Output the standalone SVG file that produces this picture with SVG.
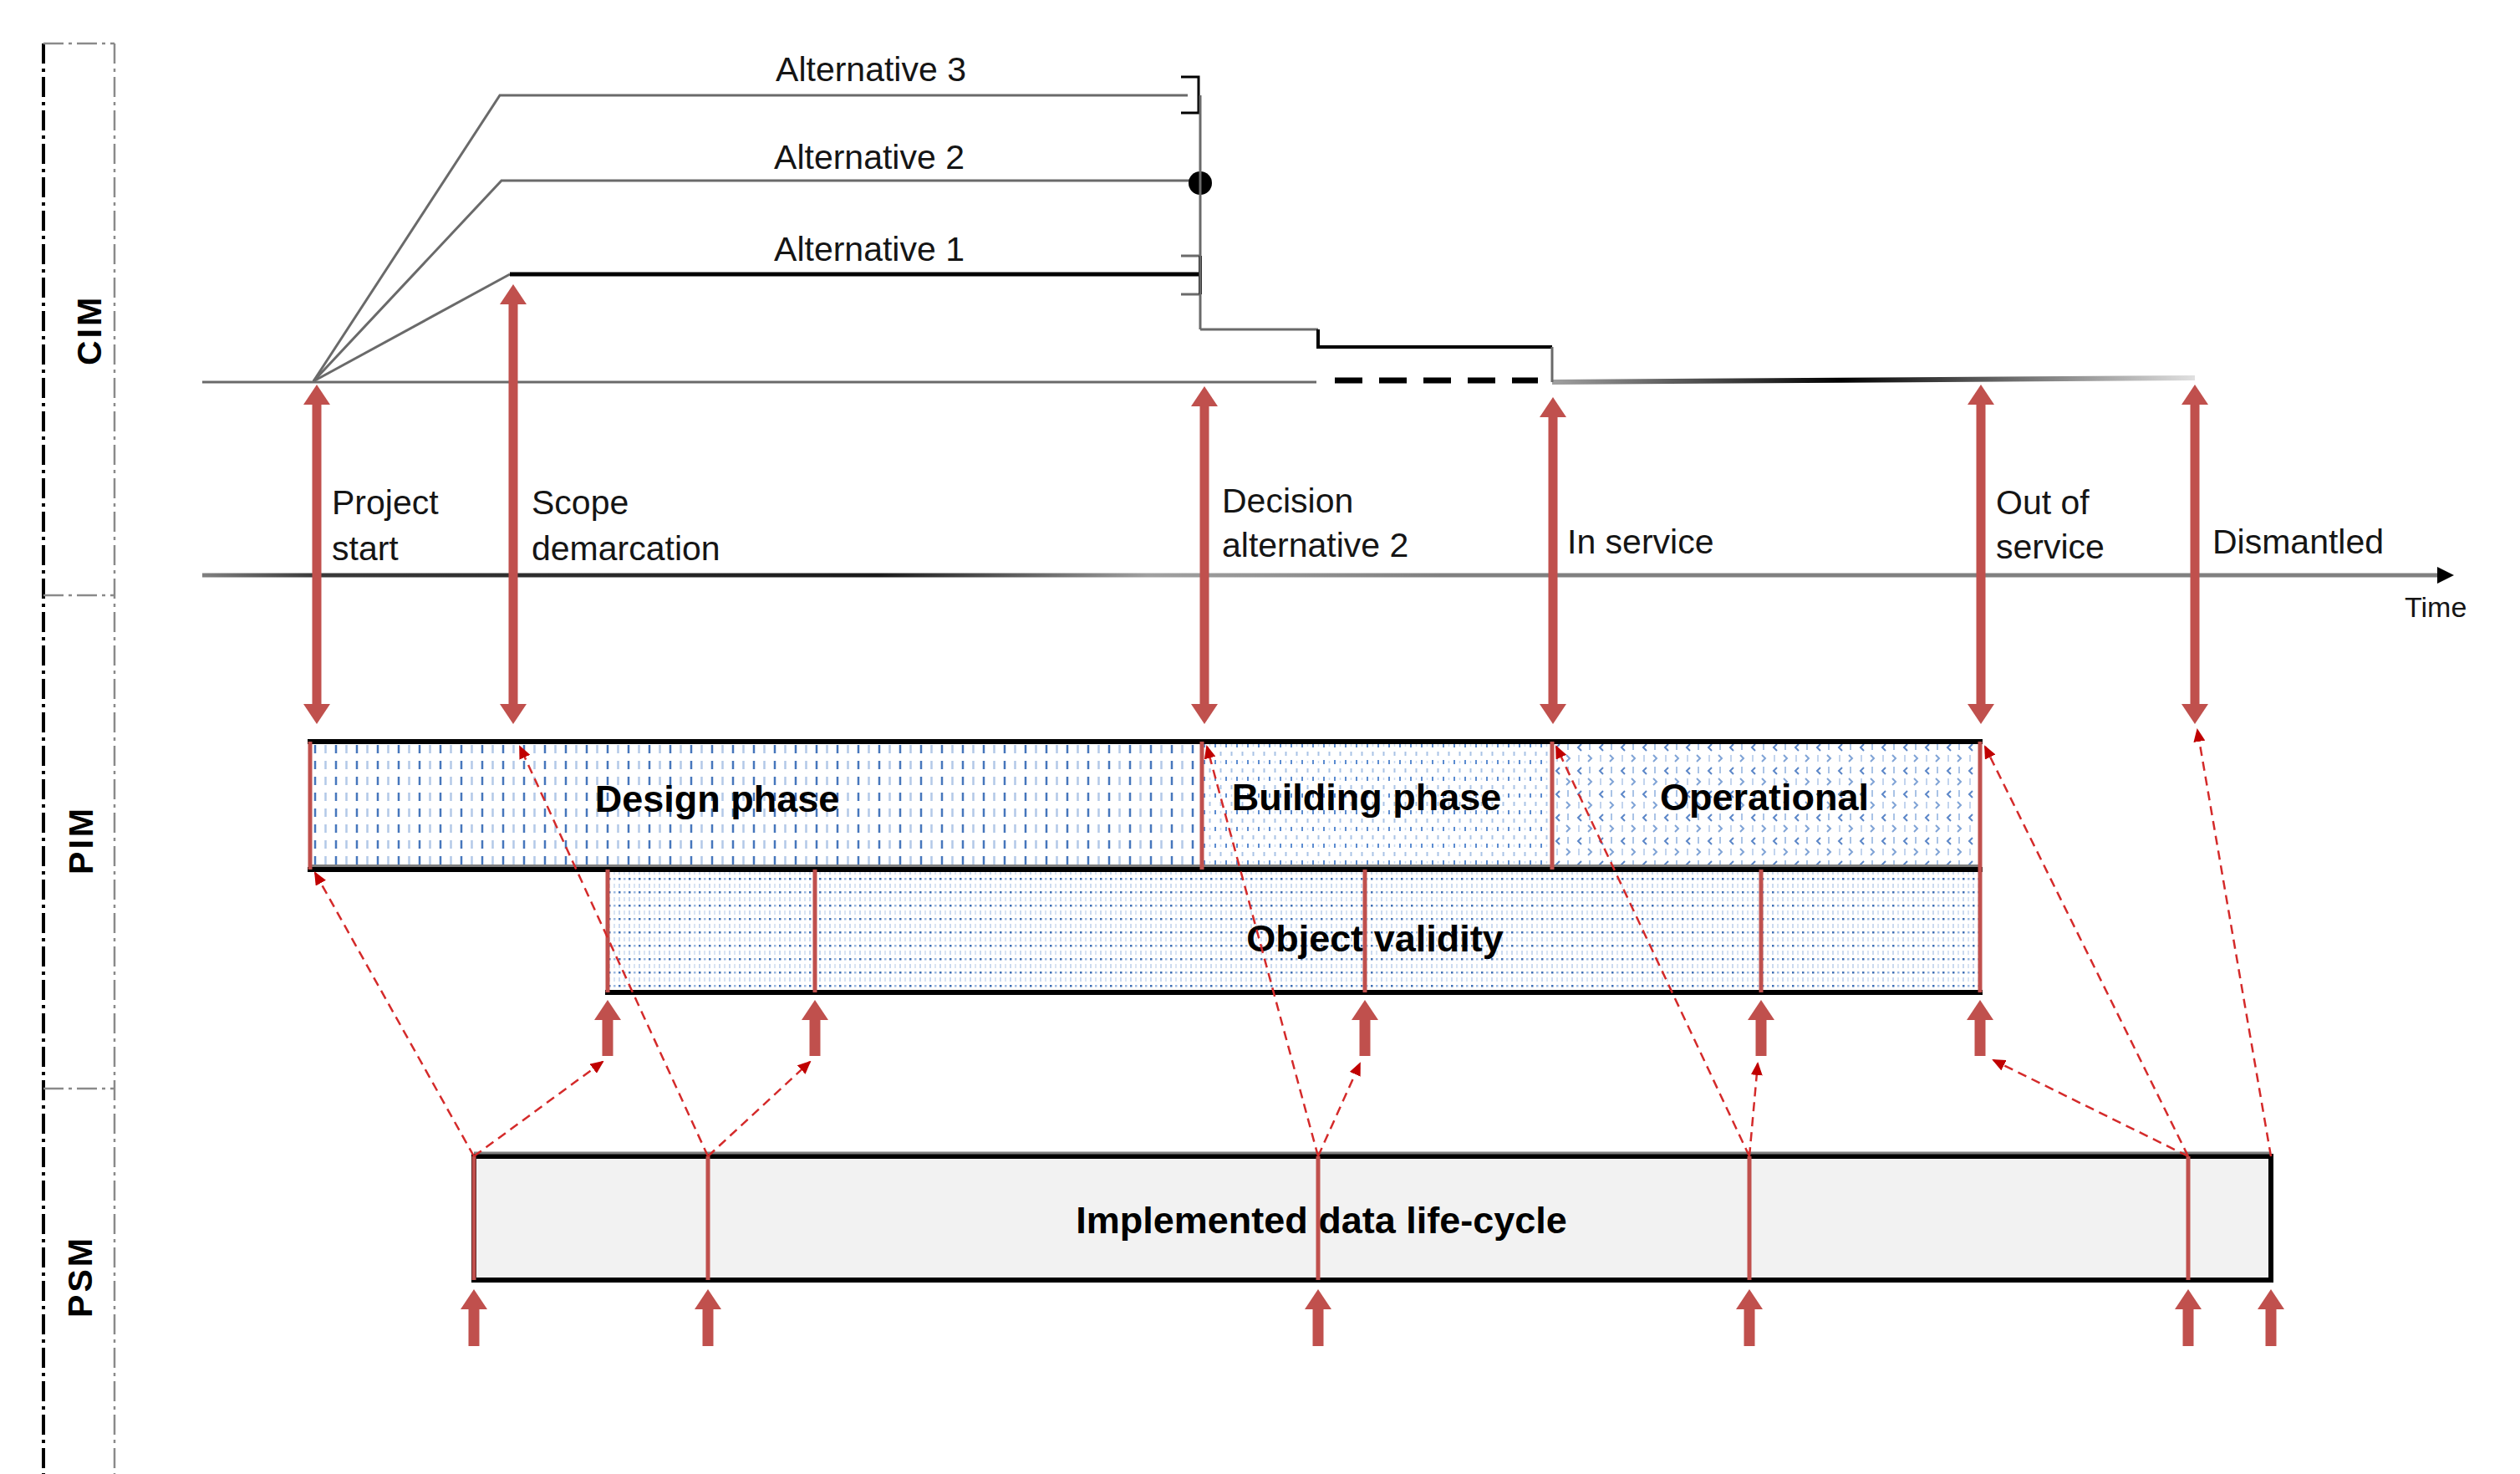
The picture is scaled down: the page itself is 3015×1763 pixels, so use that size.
<svg xmlns="http://www.w3.org/2000/svg" width="3015" height="1763" viewBox="0 0 3015 1763">
<style>
text{font-family:"Liberation Sans",Arial,sans-serif;fill:#151515}
.lbl{font-size:41px}
.bold{font-size:45px;font-weight:bold;text-anchor:middle;fill:#000}
.lane{font-size:41px;font-weight:bold;text-anchor:middle;letter-spacing:3px;fill:#000}
.thin{stroke:#6a6a6a;stroke-width:3;fill:none}
.blk{stroke:#000;stroke-width:5;fill:none}
.ms{stroke:#c0504d;stroke-width:11;fill:none;marker-start:url(#mR);marker-end:url(#mR)}
.up{stroke:#c0504d;stroke-width:13;fill:none;marker-end:url(#mR)}
.sep{stroke:#c0504d;stroke-width:5;fill:none}
.dash{stroke:#d42a2a;stroke-width:2.5;stroke-dasharray:11 7;fill:none;marker-end:url(#mD)}
.frame{stroke:#000;stroke-width:4;stroke-dasharray:24 6 4 6;fill:none}
.frame2{stroke:#8a8a8a;stroke-width:2.5;stroke-dasharray:24 6 4 6;fill:none}
.edge{stroke:#000;stroke-width:6;fill:none}
</style>
<defs>
<marker id="mR" markerUnits="userSpaceOnUse" markerWidth="24" markerHeight="32" viewBox="0 0 24 32" refX="2" refY="16" orient="auto-start-reverse"><path d="M0,0 L24,16 L0,32 z" fill="#c0504d"/></marker>
<marker id="mD" markerUnits="userSpaceOnUse" markerWidth="16" markerHeight="14" viewBox="0 0 16 14" refX="14" refY="7" orient="auto"><path d="M0,0 L16,7 L0,14 z" fill="#c00000"/></marker>
<marker id="mT" markerUnits="userSpaceOnUse" markerWidth="20" markerHeight="20" viewBox="0 0 20 20" refX="0" refY="10" orient="auto"><path d="M0,0 L20,10 L0,20 z" fill="#000"/></marker>
<linearGradient id="gTime" gradientUnits="userSpaceOnUse" x1="242" y1="0" x2="2936" y2="0">
<stop offset="0" stop-color="#808080"/><stop offset="0.05" stop-color="#3a3a3a"/><stop offset="0.3" stop-color="#1a1a1a"/><stop offset="0.42" stop-color="#a0a0a0"/><stop offset="0.55" stop-color="#808080"/><stop offset="1" stop-color="#808080"/>
</linearGradient>
<linearGradient id="gServ" gradientUnits="userSpaceOnUse" x1="1857" y1="0" x2="2626" y2="0">
<stop offset="0" stop-color="#a0a0a0"/><stop offset="0.45" stop-color="#000"/><stop offset="1" stop-color="#e0e0e0"/>
</linearGradient>
<pattern id="pDesign" patternUnits="userSpaceOnUse" x="371" y="887" width="25" height="19">
<rect width="25" height="19" fill="#fff"/>
<line x1="6" y1="4" x2="6" y2="14" stroke="#4676bc" stroke-width="2.5"/>
<line x1="18.5" y1="4" x2="18.5" y2="14" stroke="#b3c9e8" stroke-width="2.5"/>
</pattern>
<pattern id="pBuild" patternUnits="userSpaceOnUse" x="1438" y="887" width="13" height="20">
<rect width="13" height="20" fill="#fff"/>
<line x1="3" y1="2" x2="3" y2="7" stroke="#5b8bd0" stroke-width="2"/>
<line x1="9.5" y1="12" x2="9.5" y2="17" stroke="#a9c3e6" stroke-width="2"/>
<line x1="9.5" y1="3" x2="9.5" y2="6" stroke="#c9daf0" stroke-width="1.5"/>
</pattern>
<pattern id="pOper" patternUnits="userSpaceOnUse" x="1857" y="887" width="26" height="28">
<rect width="26" height="28" fill="#fff"/>
<path d="M9,3 L5,7 L9,11" stroke="#5b86c8" stroke-width="2" fill="none"/>
<line x1="19" y1="2" x2="19" y2="10" stroke="#a9c3e6" stroke-width="2"/>
<path d="M17,16 L21,20 L17,24" stroke="#7fa3d6" stroke-width="2" fill="none"/>
<line x1="6" y1="16" x2="6" y2="24" stroke="#c2d4ee" stroke-width="2"/>
</pattern>
<pattern id="pOV" patternUnits="userSpaceOnUse" x="727" y="1040" width="12" height="16">
<rect width="12" height="16" fill="#fff"/>
<line x1="2" y1="1" x2="2" y2="6" stroke="#b9cdea" stroke-width="1.5"/>
<line x1="8" y1="1" x2="8" y2="6" stroke="#cddbef" stroke-width="1.5"/>
<rect x="1" y="10" width="2.5" height="2.5" fill="#3f6fb5"/>
<rect x="7" y="10" width="2.5" height="2.5" fill="#9bb8e0"/>
</pattern>
</defs>
<rect width="3015" height="1763" fill="#fff"/>

<g id="lanes">
<g id="lane-frame">
<line class="frame" x1="52" y1="52" x2="52" y2="1763"/>
<line class="frame2" x1="137" y1="52" x2="137" y2="1763"/>
<line class="frame2" x1="52" y1="52" x2="137" y2="52"/>
<line class="frame2" x1="52" y1="712" x2="137" y2="712"/>
<line class="frame2" x1="52" y1="1302" x2="137" y2="1302"/>
</g>
<g id="lane-cim"><text class="lane" transform="translate(121,395) rotate(-90)">CIM</text></g>
<g id="lane-pim"><text class="lane" transform="translate(111,1005) rotate(-90)">PIM</text></g>
<g id="lane-psm"><text class="lane" transform="translate(110,1527) rotate(-90)">PSM</text></g>
</g>

<g id="cim-timeline">
<line class="thin" x1="242" y1="457" x2="1575" y2="457"/>
<line x1="1597" y1="455" x2="1840" y2="455" stroke="#000" stroke-width="7" stroke-dasharray="33 20"/>
<line x1="1857" y1="457" x2="2626" y2="452" stroke="url(#gServ)" stroke-width="6"/>
</g>

<g id="alt-3">
<path class="thin" d="M375,456 L598,114 L1421,114"/>
<path d="M1413,92 L1434,92 L1434,135 L1413,135" stroke="#000" stroke-width="3" fill="none"/>
<text class="lbl" x="1042" y="97" text-anchor="middle">Alternative 3</text>
</g>
<g id="alt-2">
<path class="thin" d="M375,456 L600,216 L1436,216"/>
<circle cx="1436" cy="219" r="14" fill="#000"/>
<text class="lbl" x="1040" y="202" text-anchor="middle">Alternative 2</text>
</g>
<g id="alt-1">
<path class="thin" d="M375,456 L610,328"/>
<line class="blk" x1="610" y1="328" x2="1436" y2="328"/>
<path class="thin" d="M1413,306 L1436,306 M1413,352 L1436,352"/>
<line x1="1436" y1="306" x2="1436" y2="352" stroke="#000" stroke-width="4"/>
<text class="lbl" x="1040" y="312" text-anchor="middle">Alternative 1</text>
</g>
<g id="decision-path">
<line class="thin" x1="1436" y1="114" x2="1436" y2="394"/>
<line class="thin" x1="1436" y1="394" x2="1577" y2="394"/>
<path d="M1577,394 L1577,415 L1857,415" stroke="#000" stroke-width="4" fill="none"/>
<line class="thin" x1="1857" y1="415" x2="1857" y2="457"/>
</g>

<g id="time-axis">
<line x1="242" y1="688" x2="2916" y2="688" stroke="url(#gTime)" stroke-width="5" marker-end="url(#mT)"/>
<text x="2877" y="738" style="font-size:34px">Time</text>
</g>

<g id="milestone-labels">
<text class="lbl" x="397" y="615">Project</text>
<text class="lbl" x="397" y="670">start</text>
<text class="lbl" x="636" y="615">Scope</text>
<text class="lbl" x="636" y="670">demarcation</text>
<text class="lbl" x="1462" y="613">Decision</text>
<text class="lbl" x="1462" y="666">alternative 2</text>
<text class="lbl" x="1875" y="662">In service</text>
<text class="lbl" x="2388" y="615">Out of</text>
<text class="lbl" x="2388" y="668">service</text>
<text class="lbl" x="2647" y="662">Dismantled</text>
</g>

<g id="phase-design">
<rect x="371" y="887" width="1067" height="153" fill="url(#pDesign)"/>
<text class="bold" x="858" y="971">Design phase</text>
</g>
<g id="phase-building">
<rect x="1438" y="887" width="419" height="153" fill="url(#pBuild)"/>
<text class="bold" x="1635" y="969">Building phase</text>
</g>
<g id="phase-operational">
<rect x="1857" y="887" width="512" height="153" fill="url(#pOper)"/>
<text class="bold" x="2111" y="969">Operational</text>
</g>
<g id="object-validity">
<rect x="727" y="1040" width="1642" height="147" fill="url(#pOV)"/>
<text class="bold" x="1645" y="1138">Object validity</text>
</g>
<g id="pim-outline">
<line class="edge" x1="368" y1="887" x2="2372" y2="887"/>
<line x1="371" y1="1036" x2="2369" y2="1036" stroke="#7f7f7f" stroke-width="4"/>
<line class="edge" x1="368" y1="1040" x2="2372" y2="1040"/>
<line class="edge" x1="724" y1="1187" x2="2372" y2="1187"/>
<path class="sep" d="M371,887 V1040 M1438,887 V1040 M1857,887 V1040 M2369,887 V1187 M727,1040 V1187 M975,1040 V1187 M1633,1040 V1187 M2107,1040 V1187"/>
</g>

<g id="psm-lifecycle">
<rect x="567" y="1383" width="2150" height="148" fill="#f2f2f2" stroke="#000" stroke-width="6"/>
<line x1="567" y1="1379" x2="2717" y2="1379" stroke="#7f7f7f" stroke-width="3"/>
<text class="bold" x="1581" y="1475">Implemented data life-cycle</text>
<path class="sep" d="M567,1383 V1531 M847,1383 V1531 M1577,1383 V1531 M2093,1383 V1531 M2618,1383 V1531"/>
</g>

<g id="connectors">
<path class="ms" d="M379,482 V844"/>
<path class="ms" d="M614,362 V844"/>
<path class="ms" d="M1441,484 V844"/>
<path class="ms" d="M1858,497 V844"/>
<path class="ms" d="M2370,482 V844"/>
<path class="ms" d="M2626,482 V844"/>

<path class="up" d="M727,1263 V1218"/>
<path class="up" d="M975,1263 V1218"/>
<path class="up" d="M1633,1263 V1218"/>
<path class="up" d="M2107,1263 V1218"/>
<path class="up" d="M2369,1263 V1218"/>

<path class="up" d="M567,1610 V1564"/>
<path class="up" d="M847,1610 V1564"/>
<path class="up" d="M1577,1610 V1564"/>
<path class="up" d="M2093,1610 V1564"/>
<path class="up" d="M2618,1610 V1564"/>
<path class="up" d="M2717,1610 V1564"/>

<path class="dash" d="M567,1383 L377,1044"/>
<path class="dash" d="M567,1383 L721,1270"/>
<path class="dash" d="M847,1383 L622,893"/>
<path class="dash" d="M847,1383 L969,1270"/>
<path class="dash" d="M1577,1383 L1444,893"/>
<path class="dash" d="M1577,1383 L1627,1272"/>
<path class="dash" d="M2093,1383 L1862,893"/>
<path class="dash" d="M2093,1383 L2103,1272"/>
<path class="dash" d="M2618,1383 L2385,1268"/>
<path class="dash" d="M2618,1383 L2375,893"/>
<path class="dash" d="M2717,1383 L2629,873"/>
</g>
</svg>
